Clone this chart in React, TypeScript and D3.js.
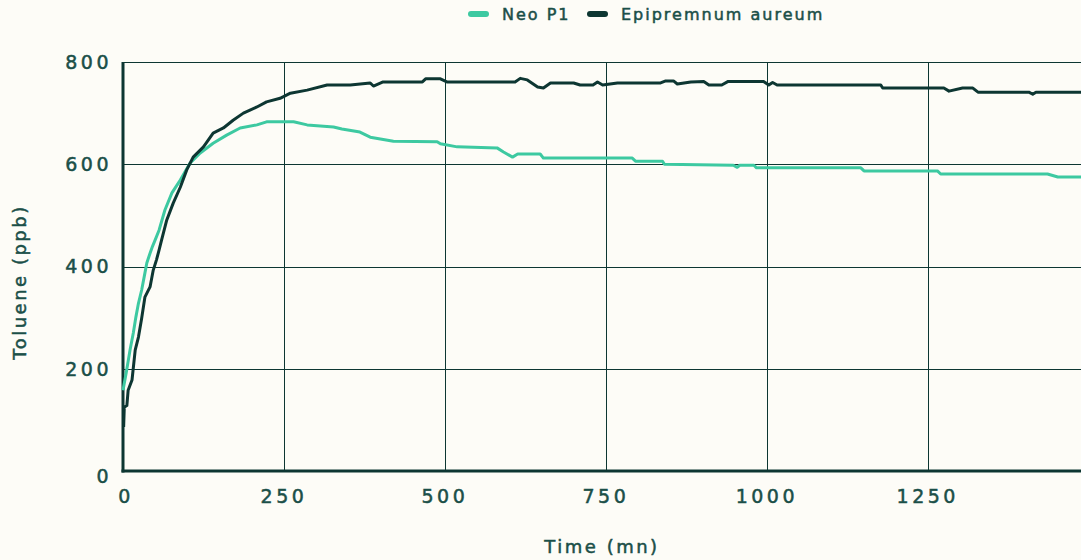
import React, { useEffect, useRef } from 'react';
import * as d3 from 'd3';

// Neo P1 readings (time in minutes, toluene in ppb)
const neoTime = [0, 5, 11, 16, 20, 24, 29, 34, 37, 42, 46, 50, 56, 65, 76, 89, 104, 120, 140, 161, 182, 208, 223, 265, 286, 327, 340, 368, 384, 420, 488, 493, 519, 581, 591, 605, 613, 648, 653, 791, 796, 838, 841, 948, 954, 958, 980, 984, 1146, 1151, 1265, 1270, 1436, 1452, 1488];
const neoValue = [158, 192, 237, 270, 301, 328, 354, 387, 407, 426, 440, 452, 471, 510, 544, 569, 602, 622, 641, 657, 671, 677, 683, 683, 677, 673, 669, 663, 653, 645, 644, 640, 634, 632, 624, 614, 620, 620, 612, 612, 606, 606, 600, 598, 594, 598, 598, 593, 593, 587, 587, 581, 581, 575, 575];

// Epipremnum aureum readings
const epiTime = [1, 2, 6, 8, 14, 19, 24, 29, 34, 42, 47, 52, 56, 60, 68, 78, 89, 99, 109, 125, 140, 156, 171, 187, 208, 223, 244, 260, 286, 317, 353, 384, 389, 404, 465, 470, 493, 503, 609, 617, 628, 644, 653, 664, 700, 710, 730, 737, 745, 768, 835, 843, 855, 861, 882, 902, 910, 930, 940, 995, 1003, 1009, 1016, 1177, 1180, 1275, 1283, 1304, 1320, 1328, 1407, 1413, 1418, 1488];
const epiValue = [86, 125, 128, 158, 178, 237, 262, 299, 340, 360, 393, 413, 432, 452, 491, 524, 555, 589, 614, 634, 661, 671, 686, 700, 712, 722, 729, 739, 745, 755, 755, 759, 753, 761, 761, 767, 767, 761, 761, 768, 765, 751, 749, 759, 759, 755, 755, 761, 755, 759, 759, 763, 763, 757, 761, 762, 755, 755, 762, 762, 755, 760, 755, 755, 749, 749, 743, 749, 749, 741, 741, 737, 741, 741];

const xTicks = [0, 250, 500, 750, 1000, 1250];
const yTicks = [0, 200, 400, 600, 800];
const seriesNames = ['Neo P1', 'Epipremnum aureum'];

const W = 1081;
const H = 560;
const BG = '#fdfcf7';
const DARK = '#0d3632';
const TEAL = '#3dc9a1';
const TEXT = '#1b4f48';
const FONT = '"DejaVu Sans", sans-serif';

const App: React.FC = () => {
  const ref = useRef<SVGSVGElement | null>(null);

  useEffect(() => {
    const svg = d3.select(ref.current);
    svg.selectAll('*').remove();

    const x = d3.scaleLinear().domain([0, 1488]).range([123, 1081]);
    const y = d3.scaleLinear().domain([0, 800]).range([471, 62]);

    svg.append('rect').attr('width', W).attr('height', H).attr('fill', BG);

    // grid
    svg.append('g')
      .selectAll('line')
      .data(yTicks.filter(d => d > 0))
      .enter()
      .append('line')
      .attr('x1', x(0))
      .attr('x2', W)
      .attr('y1', d => Math.round(y(d)) + 0.5)
      .attr('y2', d => Math.round(y(d)) + 0.5)
      .attr('stroke', DARK)
      .attr('stroke-width', 1);

    svg.append('g')
      .selectAll('line')
      .data(xTicks.filter(d => d > 0))
      .enter()
      .append('line')
      .attr('x1', d => Math.round(x(d)) + 0.5)
      .attr('x2', d => Math.round(x(d)) + 0.5)
      .attr('y1', y(800))
      .attr('y2', y(0))
      .attr('stroke', DARK)
      .attr('stroke-width', 1);

    // axes
    svg.append('line')
      .attr('x1', x(0)).attr('x2', x(0))
      .attr('y1', y(800)).attr('y2', y(0) + 1.5)
      .attr('stroke', DARK).attr('stroke-width', 3);
    svg.append('line')
      .attr('x1', x(0) - 1.5).attr('x2', W)
      .attr('y1', y(0)).attr('y2', y(0))
      .attr('stroke', DARK).attr('stroke-width', 3);

    // text style shared by every label (a slight stroke gives the medium weight)
    const styleText = (sel: any, size: number, spacing: number) =>
      sel.attr('font-family', FONT)
        .attr('font-size', size)
        .attr('letter-spacing', spacing)
        .attr('fill', TEXT)
        .attr('stroke', TEXT)
        .attr('stroke-width', 0.5);

    // tick labels
    styleText(
      svg.append('g')
        .selectAll('text')
        .data(yTicks)
        .enter()
        .append('text')
        .attr('x', 112)
        .attr('y', d => y(d) + (d === 0 ? 5 : 0))
        .attr('dy', '0.36em')
        .attr('text-anchor', 'end')
        .text(d => d),
      19, 3.5);

    styleText(
      svg.append('g')
        .selectAll('text')
        .data(xTicks)
        .enter()
        .append('text')
        .attr('x', d => x(d) + (d === 0 ? 3 : 0))
        .attr('y', 503)
        .attr('text-anchor', 'middle')
        .text(d => d),
      19, 3.5);

    // axis titles
    styleText(
      svg.append('text')
        .attr('x', 602)
        .attr('y', 553)
        .attr('text-anchor', 'middle')
        .text('Time (mn)'),
      18, 2.5);

    styleText(
      svg.append('text')
        .attr('transform', 'translate(26,282) rotate(-90)')
        .attr('text-anchor', 'middle')
        .text('Toluene (ppb)'),
      18, 2.5);

    // lines
    const line = d3.line<[number, number]>()
      .x(d => x(d[0]))
      .y(d => y(d[1]))
      .curve(d3.curveLinear);

    const neo: [number, number][] = neoTime.map((t, i) => [t, neoValue[i]]);
    const epi: [number, number][] = epiTime.map((t, i) => [t, epiValue[i]]);

    svg.append('path')
      .attr('d', line(neo))
      .attr('fill', 'none')
      .attr('stroke', TEAL)
      .attr('stroke-width', 3)
      .attr('stroke-linejoin', 'round');

    svg.append('path')
      .attr('d', line(epi))
      .attr('fill', 'none')
      .attr('stroke', DARK)
      .attr('stroke-width', 3)
      .attr('stroke-linejoin', 'round');

    // legend
    const legendX = [468, 587];
    const colors = [TEAL, DARK];
    const legend = svg.append('g');
    seriesNames.forEach((name, i) => {
      legend.append('line')
        .attr('x1', legendX[i] + 3).attr('x2', legendX[i] + 18)
        .attr('y1', 14).attr('y2', 14)
        .attr('stroke', colors[i])
        .attr('stroke-width', 6)
        .attr('stroke-linecap', 'round');
      styleText(
        legend.append('text')
          .attr('x', legendX[i] + 34)
          .attr('y', 14)
          .attr('dy', '0.36em')
          .text(name),
        16, 2);
    });
  }, []);

  return (
    <svg
      ref={ref}
      width={W}
      height={H}
      style={{ position: 'absolute', left: 0, top: 0, display: 'block' }}
    />
  );
};

export default App;
